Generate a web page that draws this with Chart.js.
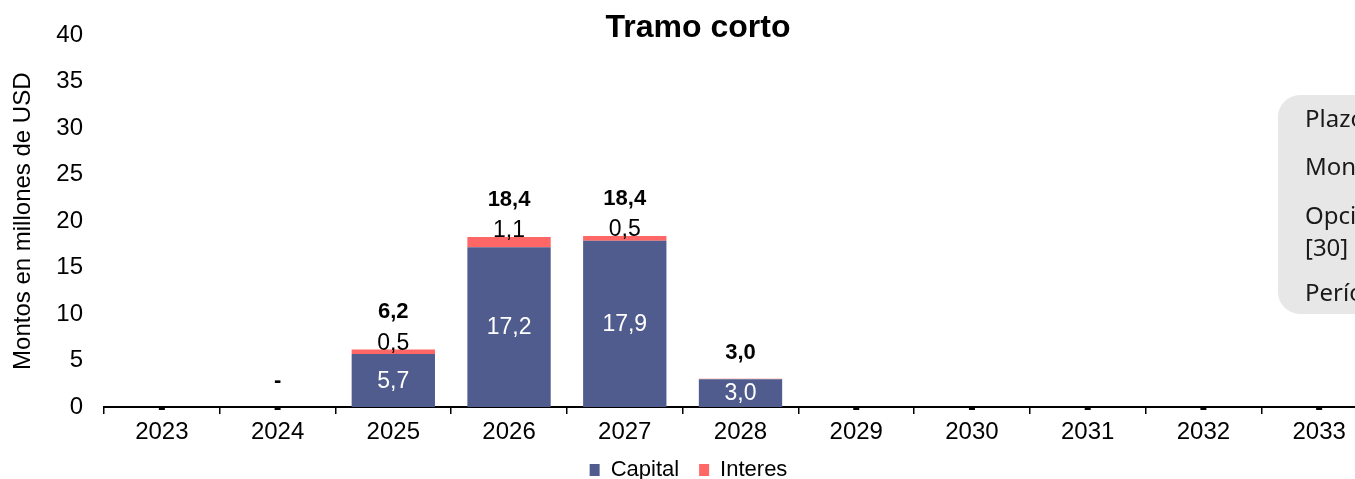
<!DOCTYPE html>
<html>
<head>
<meta charset="utf-8">
<script src="https://cdn.jsdelivr.net/npm/chart.js@4.4.1/dist/chart.umd.min.js"></script>
<style>
  body { margin: 0; width: 1355px; height: 479px; overflow: hidden; background: #fff; position: relative; }
  #wrap { position: absolute; left: 0; top: 0; width: 1396px; height: 491px; }
  .note { position: absolute; left: 1278px; top: 95px; width: 260px; height: 219px; background: #e7e7e7;
          border-radius: 22px; font-family: 'Noto Sans', sans-serif; font-size: 24px; color: #1a1a1a; }
  .note span { position: absolute; left: 27px; white-space: nowrap; line-height: 24px; }
</style>
</head>
<body>
<div id="wrap"><canvas id="myChart" width="1396" height="491"></canvas></div>
<div class="note">
  <span style="top:11px">Plazo</span>
  <span style="top:59px">Monto</span>
  <span style="top:108px">Opción</span>
  <span style="top:140px">[30]</span>
  <span style="top:185px">Período</span>
</div>
<script>
const years = ['2023', '2024', '2025', '2026', '2027', '2028', '2029', '2030', '2031', '2032', '2033'];
const capital = [0, 0, 5.7, 17.2, 17.9, 3.0, 0, 0, 0, 0, 0];
const interes = [0, 0, 0.5, 1.1, 0.5, 0.05, 0, 0, 0, 0, 0];
const totales = [null, 0, 6.2, 18.4, 18.4, 3.0, null, null, null, null, null];
const yTicks = [0, 5, 10, 15, 20, 25, 30, 35, 40];

Chart.defaults.font.family = "'Liberation Sans', Arial, sans-serif";
Chart.defaults.color = '#000';

const fmt = v => v.toFixed(1).replace('.', ',');

// numbers on the bars + little dashes for empty years
const barLabels = {
    id: 'barLabels',
    afterDatasetsDraw(chart) {
        const ctx = chart.ctx;
        const capMeta = chart.getDatasetMeta(0);
        const intMeta = chart.getDatasetMeta(1);
        const y0 = chart.scales.y.getPixelForValue(0);
        ctx.save();
        ctx.textAlign = 'center';
        ctx.textBaseline = 'middle';
        years.forEach((yr, i) => {
            const cb = capMeta.data[i];
            const ib = intMeta.data[i];
            const x = cb.x;
            if (capital[i] > 0) {
                ctx.fillStyle = '#fff';
                ctx.font = "23px 'Liberation Sans', Arial";
                ctx.fillText(fmt(capital[i]), x, (cb.y + cb.base) / 2 + 1);
            } else {
                ctx.fillStyle = '#000';
                ctx.fillRect(x - 3, y0, 6, 3);
            }
            const top = Math.min(ib.y, cb.y);
            const showInt = interes[i] >= 0.3;
            if (showInt) {
                ctx.fillStyle = '#000';
                ctx.font = "23px 'Liberation Sans', Arial";
                ctx.fillText(fmt(interes[i]), x, top - 6);
            }
            if (totales[i] !== null) {
                ctx.fillStyle = '#000';
                ctx.font = "bold 22px 'Liberation Sans', Arial";
                const txt = totales[i] === 0 ? '-' : fmt(totales[i]);
                ctx.fillText(txt, x, top - (showInt ? 37 : 26));
            }
        });
        ctx.restore();
    }
};

const titlePlugin = {
    id: 'topTitle',
    afterDraw(chart) {
        const ctx = chart.ctx;
        ctx.save();
        ctx.font = "bold 32px 'Liberation Sans', Arial";
        ctx.fillStyle = '#000';
        ctx.textAlign = 'center';
        ctx.textBaseline = 'middle';
        ctx.fillText('Tramo corto', chart.width / 2, 28);
        ctx.restore();
    }
};

const ctx = document.getElementById('myChart').getContext('2d');
const myChart = new Chart(ctx, {
    type: 'bar',
    data: {
        labels: years,
        datasets: [{
            label: 'Capital',
            data: capital,
            backgroundColor: '#505c8e',
            barPercentage: 0.72,
            categoryPercentage: 1
        }, {
            label: 'Interes',
            data: interes,
            backgroundColor: '#ff6666',
            barPercentage: 0.72,
            categoryPercentage: 1
        }]
    },
    options: {
        responsive: false,
        animation: false,
        devicePixelRatio: 1,
        layout: {
            padding: { top: 22, right: 19, bottom: 0, left: 0 }
        },
        scales: {
            x: {
                stacked: true,
                grid: {
                    display: true,
                    drawOnChartArea: false,
                    drawTicks: true,
                    tickLength: 7,
                    color: '#000',
                    lineWidth: 1.5,
                    offset: true
                },
                border: { display: true, color: '#000', width: 2 },
                ticks: { font: { size: 24 }, color: '#000', padding: 4, maxRotation: 0 },
                afterFit: s => { s.height = 32; }
            },
            y: {
                stacked: true,
                min: 0,
                max: 40,
                afterBuildTicks: s => { s.ticks = yTicks.map(v => ({ value: v })); },
                grid: { display: false, drawTicks: false },
                border: { display: false },
                ticks: { font: { size: 24 }, color: '#000', padding: 21 },
                title: {
                    display: true,
                    text: 'Montos en millones de USD',
                    font: { size: 24 },
                    color: '#000',
                    padding: { top: 9, bottom: 0 }
                },
                afterFit: s => { s.width = 104; }
            }
        },
        plugins: {
            legend: {
                display: true,
                position: 'bottom',
                labels: {
                    boxWidth: 10,
                    boxHeight: 12,
                    font: { size: 22 },
                    color: '#000',
                    padding: 20
                }
            },
            tooltip: { enabled: false }
        }
    },
    plugins: [barLabels, titlePlugin]
});
</script>
</body>
</html>
